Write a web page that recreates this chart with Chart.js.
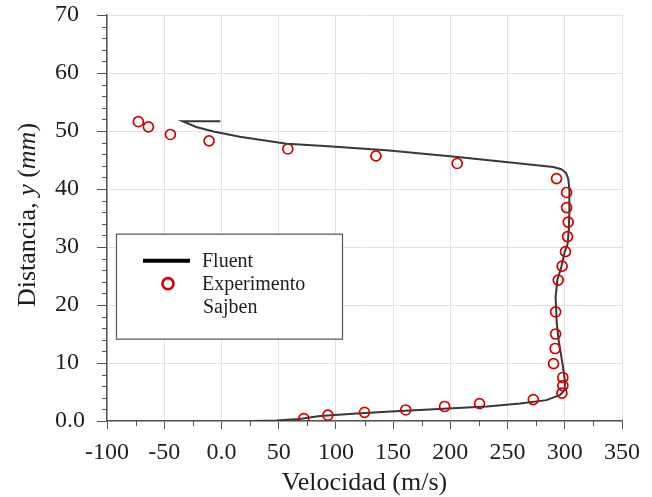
<!DOCTYPE html>
<html>
<head>
<meta charset="utf-8">
<script src="https://cdn.jsdelivr.net/npm/chart.js@4.4.1/dist/chart.umd.min.js"></script>
<style>
  html, body { margin: 0; padding: 0; background: #ffffff; }
  #wrap { position: relative; width: 652px; height: 497px; }
  canvas { display: block; }
</style>
</head>
<body>
<div id="wrap"><canvas id="c" width="652" height="497"></canvas></div>
<script>
// ---- Data ----
const xTickValues = [-100, -50, 0, 50, 100, 150, 200, 250, 300, 350];
const xTickLabels = ['-100', '-50', '0.0', '50', '100', '150', '200', '250', '300', '350'];
const yTickValues = [0, 10, 20, 30, 40, 50, 60, 70];
const yTickLabels = ['0.0', '10', '20', '30', '40', '50', '60', '70'];

// Fluent simulation profile (velocity m/s, distance mm)
const fluentX = [29, 48, 68, 86, 115, 144, 173, 202, 232, 261, 284, 296, 300, 300, 298, 295, 293, 292, 293.5, 297, 300, 302.5, 303.5, 304, 304, 303, 301, 297, 290, 261, 202, 144, 90, 57, 16, -7, -22, -34, -1];
const fluentY = [0, 0.1, 0.35, 0.85, 1.25, 1.6, 1.9, 2.2, 2.5, 3.0, 3.6, 4.5, 5.4, 7.1, 9.9, 13.4, 16.8, 21.4, 24.3, 26.6, 29.2, 30.5, 33, 36, 40, 41.8, 42.8, 43.4, 43.8, 44.4, 45.6, 46.7, 47.4, 47.8, 49.0, 49.9, 50.7, 51.7, 51.7];

// Sajben experiment
const expX = [72, 93, 125, 161, 195, 225.5, 272.5, 297.5, 298.3, 298.3, 290.2, 291.6, 292, 292, 294.3, 297.7, 300.6, 302.4, 303, 301.6, 301.6, 292.8, 206, 135, 58, -10.8, -44.6, -63.8, -72.6];
const expY = [0.4, 1.0, 1.5, 1.9, 2.5, 3.0, 3.7, 4.8, 6.1, 7.5, 9.9, 12.5, 15.0, 18.8, 24.3, 26.7, 29.2, 31.8, 34.3, 36.8, 39.4, 41.8, 44.4, 45.7, 46.9, 48.3, 49.4, 50.7, 51.6];

const seriesNames = ['Fluent', 'Experimento', 'Sajben'];
const xTitle = 'Velocidad (m/s)';
// y title segments: [text, italic]
const yTitleParts = [['Distancia, ', false], ['y', true], [' (', false], ['mm', true], [')', false]];

const SERIF = '"Liberation Serif", "Times New Roman", serif';
const TXT = '#1e1e1e';
const RED = '#d40000';
const LINE = '#383838';

const fluentPts = fluentX.map((x, i) => ({ x: x, y: fluentY[i] }));
const expPts = expX.map((x, i) => ({ x: x, y: expY[i] }));

// minor ticks, titles and legend drawn through the library's scales
const decor = {
  id: 'decor',
  afterDraw(chart) {
    const ctx = chart.ctx;
    const xs = chart.scales.x, ys = chart.scales.y;
    const area = chart.chartArea;
    ctx.save();
    // minor ticks
    ctx.strokeStyle = '#555';
    ctx.lineWidth = 1;
    ctx.beginPath();
    for (let v = 2; v < 70; v += 2) {
      if (v % 10 === 0) continue;
      const py = Math.round(ys.getPixelForValue(v)) + 0.5;
      ctx.moveTo(area.left - 5, py); ctx.lineTo(area.left, py);
    }
    for (let v = -75; v < 350; v += 50) {
      const px = Math.round(xs.getPixelForValue(v)) + 0.5;
      ctx.moveTo(px, area.bottom); ctx.lineTo(px, area.bottom + 5);
    }
    ctx.stroke();

    // x title
    ctx.fillStyle = TXT;
    ctx.font = '26px ' + SERIF;
    ctx.textAlign = 'center';
    ctx.textBaseline = 'alphabetic';
    ctx.fillText(xTitle, (area.left + area.right) / 2, 490);

    // y title (rotated, mixed italic)
    ctx.translate(35, (area.top + area.bottom) / 2 - 3);
    ctx.rotate(-Math.PI / 2);
    let total = 0;
    const widths = yTitleParts.map(p => {
      ctx.font = (p[1] ? 'italic ' : '') + '26px ' + SERIF;
      const w = ctx.measureText(p[0]).width; total += w; return w;
    });
    let cx = -total / 2;
    ctx.textAlign = 'left';
    yTitleParts.forEach((p, i) => {
      ctx.font = (p[1] ? 'italic ' : '') + '26px ' + SERIF;
      ctx.fillText(p[0], cx, 0);
      cx += widths[i];
    });
    ctx.restore();

    // legend box
    ctx.save();
    const lx = xs.getPixelForValue(-100) + 9, ly = ys.getPixelForValue(32.3);
    const lw = 226, lh = 105;
    ctx.fillStyle = '#ffffff';
    ctx.fillRect(lx, ly, lw, lh);
    ctx.strokeStyle = '#555';
    ctx.lineWidth = 1.2;
    ctx.strokeRect(lx + 0.5, ly + 0.5, lw, lh);
    // line sample
    ctx.strokeStyle = '#000';
    ctx.lineWidth = 4;
    ctx.beginPath();
    ctx.moveTo(lx + 27, ly + 27); ctx.lineTo(lx + 74, ly + 27);
    ctx.stroke();
    // circle sample
    ctx.strokeStyle = RED;
    ctx.lineWidth = 2.6;
    ctx.beginPath();
    ctx.arc(lx + 52, ly + 50, 5.5, 0, Math.PI * 2);
    ctx.stroke();
    ctx.fillStyle = TXT;
    ctx.font = '20px ' + SERIF;
    ctx.textAlign = 'left';
    ctx.textBaseline = 'alphabetic';
    ctx.fillText(chart.data.datasets[0].label, lx + 86, ly + 33);
    ctx.fillText(seriesNames[1], lx + 86, ly + 56);
    ctx.fillText(seriesNames[2], lx + 87, ly + 79);
    ctx.restore();
  }
};

new Chart(document.getElementById('c'), {
  type: 'scatter',
  data: {
    datasets: [
      {
        label: seriesNames[0],
        data: fluentPts,
        showLine: true,
        borderColor: LINE,
        borderWidth: 2,
        pointRadius: 0,
        tension: 0,
        order: 2
      },
      {
        label: seriesNames[1] + ' ' + seriesNames[2],
        data: expPts,
        showLine: false,
        pointStyle: 'circle',
        pointRadius: 5,
        pointBorderWidth: 1.7,
        pointBorderColor: RED,
        pointBackgroundColor: 'rgba(0,0,0,0)',
        borderColor: RED,
        order: 1
      }
    ]
  },
  options: {
    responsive: false,
    animation: false,
    devicePixelRatio: 1,
    layout: { padding: { top: 15, right: 30, left: 55, bottom: 0 } },
    plugins: { legend: { display: false }, tooltip: { enabled: false } },
    scales: {
      x: {
        type: 'linear',
        min: -100, max: 350,
        afterFit(s) { s.height = 76; s.paddingLeft = 0; s.paddingRight = 0; },
        afterBuildTicks(s) { s.ticks = xTickValues.map(v => ({ value: v })); },
        ticks: {
          autoSkip: false,
          maxRotation: 0,
          padding: 9,
          color: TXT,
          font: { family: SERIF, size: 24 },
          callback: (v) => xTickLabels[xTickValues.indexOf(v)]
        },
        grid: { color: '#e2e2e2', lineWidth: 1, tickColor: '#555', tickLength: 8, drawTicks: true },
        border: { color: '#555', width: 1.5 }
      },
      y: {
        type: 'linear',
        min: 0, max: 70,
        afterFit(s) { s.width = 52; s.paddingTop = 0; s.paddingBottom = 0; },
        afterBuildTicks(s) { s.ticks = yTickValues.map(v => ({ value: v })); },
        ticks: {
          autoSkip: false,
          crossAlign: 'far',
          padding: 10,
          color: TXT,
          font: { family: SERIF, size: 24 },
          callback: (v) => yTickLabels[yTickValues.indexOf(v)]
        },
        grid: { color: '#e2e2e2', lineWidth: 1, tickColor: '#555', tickLength: 10, drawTicks: true },
        border: { color: '#555', width: 1.5 }
      }
    }
  },
  plugins: [decor]
});
</script>
</body>
</html>
